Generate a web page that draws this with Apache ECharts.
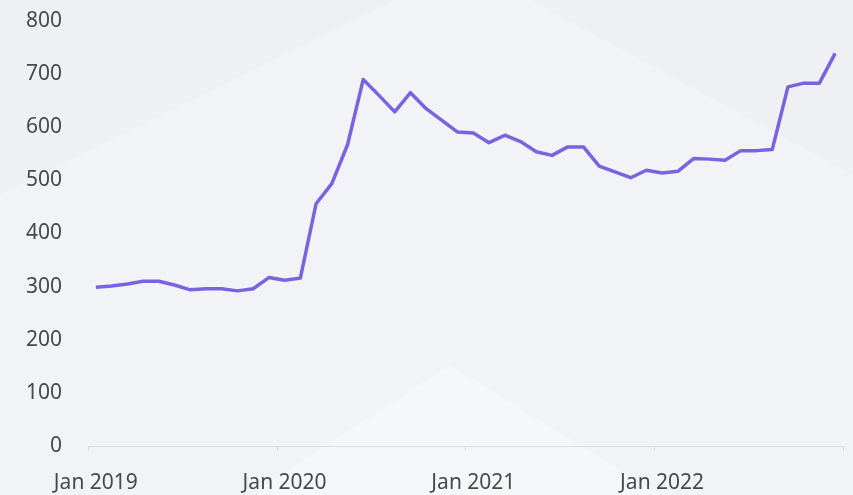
<!DOCTYPE html>
<html>
<head>
<meta charset="utf-8">
<script src="https://cdn.jsdelivr.net/npm/echarts@6/dist/echarts.min.js"></script>
<style>
  html, body { margin: 0; padding: 0; background: #eff1f4; }
  #chart { width: 853px; height: 495px; }
</style>
</head>
<body>
<div id="chart"></div>
<script>
// Monthly categories, Jan 2019 – Dec 2022
const months = ['Jan','Feb','Mar','Apr','May','Jun','Jul','Aug','Sep','Oct','Nov','Dec'];
const years = [2019, 2020, 2021, 2022];
const categories = [];
years.forEach(y => months.forEach(m => categories.push(m + ' ' + y)));

// Monthly values
const values = [
  299, 301, 305, 310, 310, 303, 294, 296, 296, 292, 296, 317,
  312, 316, 456, 494, 567, 690, 660, 629, 665, 635, 613, 591,
  589, 571, 585, 573, 554, 547, 563, 563, 527, 516, 505, 519,
  514, 517, 541, 540, 538, 556, 556, 558, 676, 683, 683, 739
];

// Value axis range
const yMin = 0;
const yMax = 800;
const yStep = 100;

const chart = echarts.init(document.getElementById('chart'), null, { renderer: 'canvas' });

const fontFamily = '"Noto Sans", "Open Sans", sans-serif';
const textColor = '#47484b';

chart.setOption({
  backgroundColor: '#eef0f3',
  animation: false,
  graphic: [
    // soft lighter facets in the backdrop
    { type: 'polygon', z: -10, silent: true,
      shape: { points: [[0, 195], [395, 0], [530, 0], [853, 175], [853, 495], [0, 495]] },
      style: { fill: '#f2f3f6' } },
    { type: 'polygon', z: -9, silent: true,
      shape: { points: [[450, 365], [250, 495], [660, 495]] },
      style: { fill: '#f6f7f9' } }
  ],
  grid: { left: 88, right: 10, top: 21, bottom: 49, containLabel: false },
  xAxis: {
    type: 'category',
    data: categories,
    boundaryGap: true,
    axisLine: { show: true, lineStyle: { color: '#dcdee2', width: 1 } },
    axisTick: { show: true, interval: 11, length: 5, lineStyle: { color: '#d6d8dc' } },
    axisLabel: {
      interval: 11,
      color: textColor,
      fontFamily: fontFamily,
      fontSize: 21,
      margin: 27
    },
    splitLine: { show: false }
  },
  yAxis: {
    type: 'value',
    min: yMin,
    max: yMax,
    interval: yStep,
    axisLine: { show: false },
    axisTick: { show: false },
    splitLine: { show: false },
    axisLabel: {
      color: textColor,
      fontFamily: fontFamily,
      fontSize: 21,
      margin: 26
    }
  },
  series: [{
    type: 'line',
    data: values,
    showSymbol: false,
    symbol: 'none',
    smooth: false,
    lineStyle: { color: '#7b62df', width: 3.5, join: 'round' }
  }]
});
</script>
</body>
</html>
